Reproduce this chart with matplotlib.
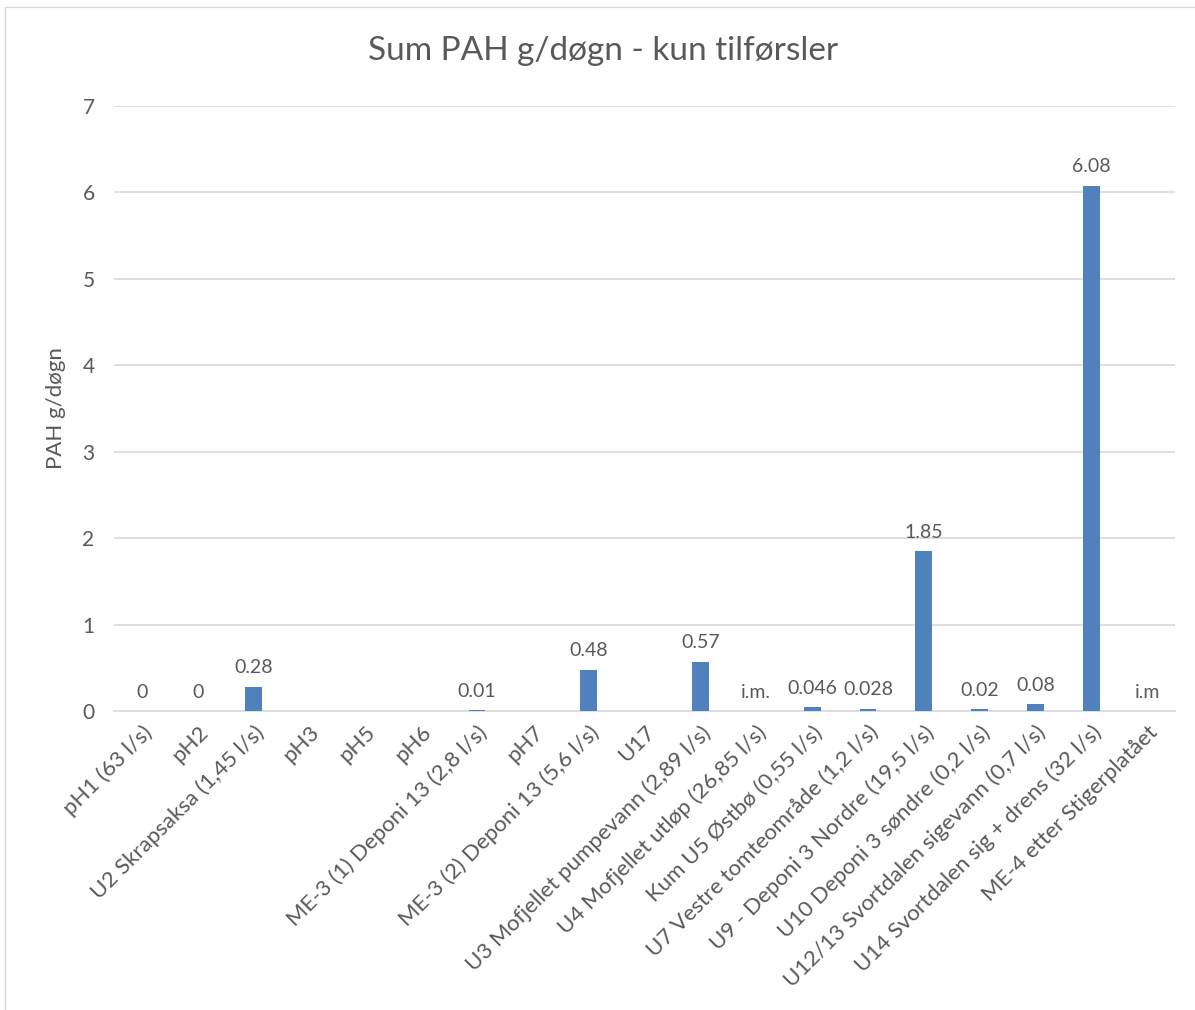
import numpy as np
import matplotlib.pyplot as plt
from matplotlib.patches import Rectangle

plt.rcParams['font.family'] = ['Lato', 'DejaVu Sans']

categories = [
    "pH1 (63 l/s)", "pH2", "U2 Skrapsaksa (1,45 l/s)", "pH3", "pH5", "pH6",
    "ME-3 (1) Deponi 13 (2,8 l/s)", "pH7", "ME-3 (2) Deponi 13 (5,6 l/s)", "U17",
    "U3 Mofjellet pumpevann (2,89 l/s)", "U4 Mofjellet utløp (26,85 l/s)",
    "Kum U5 Østbø (0,55 l/s)", "U7 Vestre tomteområde (1,2 l/s)",
    "U9 - Deponi 3 Nordre (19,5 l/s)", "U10 Deponi 3 søndre (0,2 l/s)",
    "U12/13 Svortdalen sigevann (0,7 l/s)", "U14 Svortdalen sig + drens (32 l/s)",
    "ME-4 etter Stigerplatået",
]
values = [0, 0, 0.28, None, None, None, 0.01, None, 0.48, None, 0.57, None,
          0.046, 0.028, 1.85, 0.02, 0.08, 6.08, None]
labels = ["0", "0", "0.28", "", "", "", "0.01", "", "0.48", "", "0.57", "i.m.",
          "0.046", "0.028", "1.85", "0.02", "0.08", "6.08", "i.m"]

grey = "#595959"
blue = "#4f81bd"

fig = plt.figure(figsize=(11.95, 10.1), dpi=100)
ax = fig.add_axes([0.0954, 0.296, 0.888, 0.599])

x = np.arange(len(categories))
h = np.array([v if v is not None else 0 for v in values], dtype=float)
ax.bar(x, h, width=0.3, color=blue, zorder=3)

for xi, hi, lab in zip(x, h, labels):
    if lab:
        ax.text(xi, hi + 0.12, lab, ha="center", va="bottom", fontsize=14, color=grey)

ax.set_xlim(-0.5, len(categories) - 0.5)
ax.set_ylim(0, 7)
ax.set_yticks(range(8))
ax.yaxis.grid(True, color="#d9d9d9", linewidth=1.2, zorder=0)
ax.set_xticks(x)
ax.set_xticklabels(categories, rotation=45, ha="right", rotation_mode="anchor",
                   fontsize=16, color=grey)
ax.tick_params(axis="both", length=0, labelsize=15, labelcolor=grey)
ax.tick_params(axis="x", labelsize=16, pad=8)
ax.tick_params(axis="y", pad=14)
for s in ["top", "right", "left"]:
    ax.spines[s].set_visible(False)
ax.spines["bottom"].set_color("#d9d9d9")
ax.spines["bottom"].set_linewidth(1.2)

ax.set_ylabel("PAH g/døgn", fontsize=16, color=grey, labelpad=12)
fig.text(0.505, 0.95, "Sum PAH g/døgn - kun tilførsler", ha="center", va="center",
         fontsize=24, color=grey)

fig.patches.append(Rectangle((0.004, -0.01), 1.1, 1.003, transform=fig.transFigure,
                             fill=False, edgecolor="#d9d9d9", linewidth=1))

fig.savefig("out.png", dpi=100)
